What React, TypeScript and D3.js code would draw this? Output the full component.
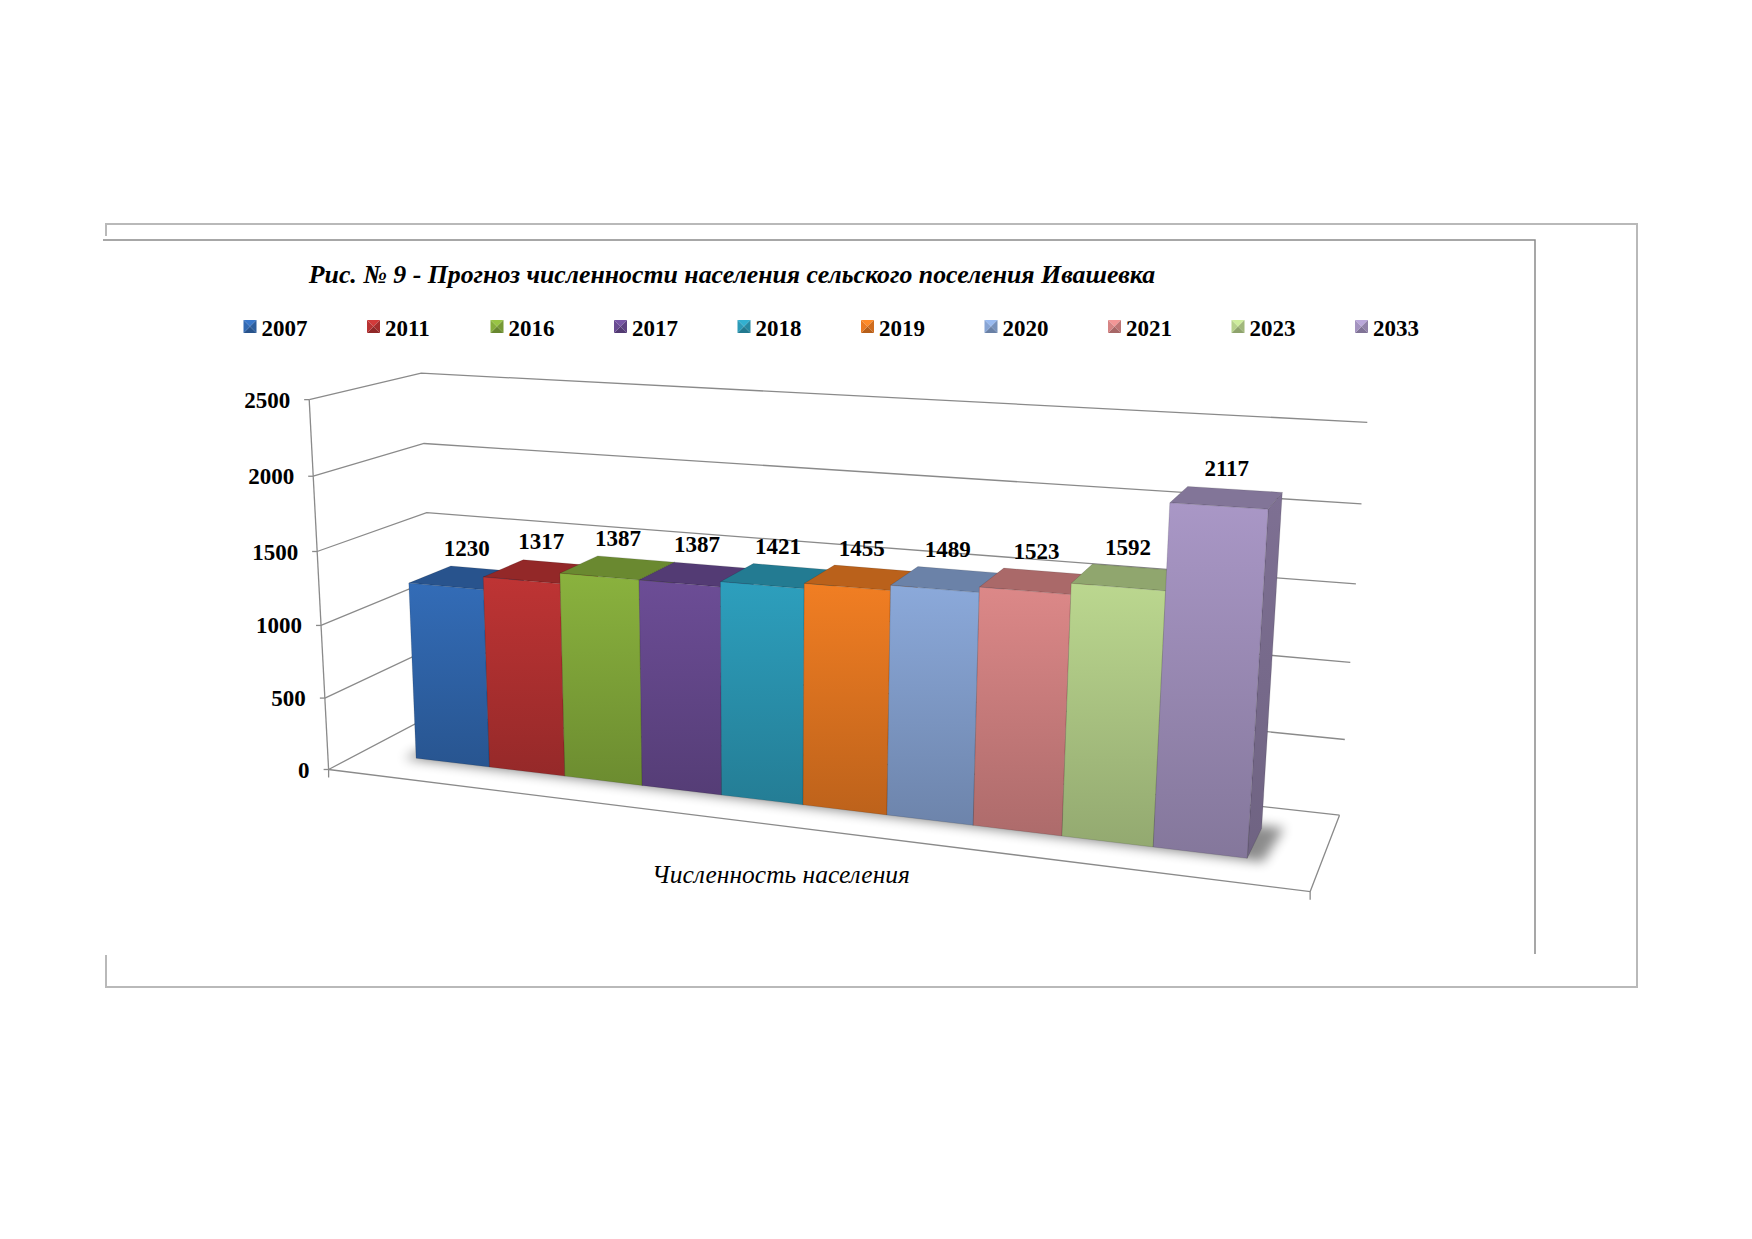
import React from 'react';
import * as d3 from 'd3';

// Chart data
const years = ['2007', '2011', '2016', '2017', '2018', '2019', '2020', '2021', '2023', '2033'];
const population = [1230, 1317, 1387, 1387, 1421, 1455, 1489, 1523, 1592, 2117];
const barColors = ['#3269b2', '#b93333', '#86ad3c', '#694b92', '#2c9bb8', '#ea7a22', '#87a4d4', '#d68484', '#b6d18b', '#a493c0'];
const valueTicks = [0, 500, 1000, 1500, 2000, 2500];
const titleText = 'Рис. № 9 - Прогноз численности населения сельского поселения Ивашевка';
const axisTitle = 'Численность населения';

// Where the plot box edges fall on the page: [u, value, depth, x, y]
const wallAnchors: number[][] = [
  [0, 0, 0, 332.3, 768.3],
  [0, 500, 0, 325, 696.7],
  [0, 1000, 0, 320, 625],
  [0, 1500, 0, 316.7, 551.7],
  [0, 2000, 0, 313.3, 476.7],
  [0, 2500, 0, 306.7, 400],
  [0, 0, 1, 431.5, 716.5],
  [0, 1500, 1, 426.7, 512.3],
  [0, 2000, 1, 425, 442.7],
  [0, 2500, 1, 423.3, 373.3],
  [1, 0, 1, 1339.3, 813.3],
  [1, 500, 1, 1345, 739],
  [1, 1000, 1, 1350.7, 661.7],
  [1, 1500, 1, 1356, 584],
  [1, 2000, 1, 1361.7, 504.3],
  [1, 2500, 1, 1366.7, 422.7],
  [1, 0, 0, 1310, 894],
];

const FONT = "'Times New Roman', 'Liberation Serif', serif";
const W = 1752;
const H = 1239;

const yScale = d3.scaleLinear().domain([0, 2500]).range([0, 1]);
const uScale = d3.scaleBand<string>().domain(years).range([0, 1]).paddingInner(0).paddingOuter(0.75);
const depthFront = 0.3;
const depthBack = 0.7;

// solve A p = r (small dense system)
function solve(M: number[][], r: number[]): number[] {
  const n = r.length;
  const a = M.map((row, i) => [...row, r[i]]);
  for (let c = 0; c < n; c++) {
    let piv = c;
    for (let k = c + 1; k < n; k++) if (Math.abs(a[k][c]) > Math.abs(a[piv][c])) piv = k;
    [a[c], a[piv]] = [a[piv], a[c]];
    for (let k = 0; k < n; k++) {
      if (k === c) continue;
      const f = a[k][c] / a[c][c];
      for (let j = c; j <= n; j++) a[k][j] -= f * a[c][j];
    }
  }
  return a.map((row, i) => row[n] / row[i]);
}

// perspective camera fitted to the anchors (DLT, least squares)
function fitCamera(anchors: number[][]) {
  const cx = 800, cy = 600, s = 500;
  const A: number[][] = [];
  const b: number[] = [];
  anchors.forEach(([u, v, w, x, y]) => {
    const X = u, Y = yScale(v), Z = w;
    const xn = (x - cx) / s, yn = (y - cy) / s;
    A.push([X, Y, Z, 1, 0, 0, 0, 0, -xn * X, -xn * Y, -xn * Z]); b.push(xn);
    A.push([0, 0, 0, 0, X, Y, Z, 1, -yn * X, -yn * Y, -yn * Z]); b.push(yn);
  });
  const M = d3.range(11).map(i => d3.range(11).map(j => d3.sum(A, row => row[i] * row[j])));
  const r = d3.range(11).map(i => d3.sum(A, (row, k) => row[i] * b[k]));
  const p = solve(M, r);
  return (X: number, Y: number, Z: number): [number, number] => {
    const d = p[8] * X + p[9] * Y + p[10] * Z + 1;
    return [
      ((p[0] * X + p[1] * Y + p[2] * Z + p[3]) / d) * s + cx,
      ((p[4] * X + p[5] * Y + p[6] * Z + p[7]) / d) * s + cy,
    ];
  };
}

const project = fitCamera(wallAnchors);

const poly = (pts: [number, number][]) => 'M' + pts.map(p => `${p[0].toFixed(1)},${p[1].toFixed(1)}`).join('L') + 'Z';
const line = (pts: [number, number][]) => 'M' + pts.map(p => `${p[0].toFixed(1)},${p[1].toFixed(1)}`).join('L');

const shade = (c: string, k: number) => (k >= 0 ? d3.color(c)!.brighter(k) : d3.color(c)!.darker(-k)).formatHex();

export default function App() {
  const bw = uScale.bandwidth();
  const u0 = uScale(years[0])!;
  const u1 = uScale(years[years.length - 1])! + bw;

  const shadow = poly([
    project(u0 - 0.012, 0, depthFront - 0.02),
    project(u1 + 0.015, 0, depthFront - 0.02),
    project(u1 + 0.02, 0, depthBack + 0.04),
    project(u0 - 0.005, 0, depthBack),
  ]);

  const gridColor = '#8a8a8a';

  return (
    <svg width={W} height={H} style={{ position: 'absolute', left: 0, top: 0, background: '#fff' }}>
      <defs>
        <filter id="floorShadow" x="-20%" y="-50%" width="140%" height="200%">
          <feGaussianBlur stdDeviation="6" />
        </filter>
        {barColors.map((c, i) => (
          <linearGradient key={i} id={`front-${i}`} x1="0" y1="0" x2="0" y2="1">
            <stop offset="0%" stopColor={shade(c, 0.08)} />
            <stop offset="100%" stopColor={shade(c, -0.6)} />
          </linearGradient>
        ))}
        {barColors.map((c, i) => (
          <linearGradient key={i} id={`side-${i}`} x1="0" y1="0" x2="0" y2="1">
            <stop offset="0%" stopColor={shade(c, -0.75)} />
            <stop offset="100%" stopColor={shade(c, -1.1)} />
          </linearGradient>
        ))}
      </defs>

      {/* page frames */}
      <g fill="none">
        <path d="M106,236V224H1637V987H106V955" stroke="#b9b9b9" strokeWidth={2} />
        <path d="M103,240H1535V954" stroke="#8a8a8a" strokeWidth={1.5} />
      </g>

      {/* title */}
      <text x={732} y={283} textAnchor="middle" fontFamily={FONT} fontSize={25.8} fontWeight="bold" fontStyle="italic">
        {titleText}
      </text>

      {/* legend */}
      {years.map((yr, i) => {
        const x = 243.5 + i * 123.5;
        const y = 320;
        const sz = 13;
        const c = barColors[i];
        const mx = x + sz / 2, my = y + sz / 2;
        return (
          <g key={yr}>
            <path d={poly([[x, y], [x + sz, y], [mx, my]])} fill={shade(c, 0.35)} />
            <path d={poly([[x + sz, y], [x + sz, y + sz], [mx, my]])} fill={shade(c, -0.35)} />
            <path d={poly([[x, y + sz], [x + sz, y + sz], [mx, my]])} fill={shade(c, -0.7)} />
            <path d={poly([[x, y], [x, y + sz], [mx, my]])} fill={c} />
            <text x={x + 18} y={335.5} fontFamily={FONT} fontSize={23} fontWeight="bold">{yr}</text>
          </g>
        );
      })}

      {/* walls: gridlines on side and back wall */}
      <g fill="none" stroke={gridColor} strokeWidth={1.3}>
        {valueTicks.map(t => (
          <path key={t} d={line([project(0, yScale(t), 0), project(0, yScale(t), 1), project(1, yScale(t), 1)])} />
        ))}
        {/* floor */}
        <path d={line([project(0, 0, 0), project(1, 0, 0), project(1, 0, 1)])} />
        {/* value axis */}
        <path d={line([project(0, 0, 0), project(0, 1, 0)])} />
        {valueTicks.map(t => {
          const [x, y] = project(0, yScale(t), 0);
          return <path key={'tk' + t} d={`M${x - 5},${y}H${x}`} />;
        })}
        {[0, 1].map(u => {
          const [x, y] = project(u, 0, 0);
          return <path key={'ct' + u} d={`M${x},${y}V${y + 8}`} />;
        })}
      </g>

      {/* value labels */}
      {valueTicks.map(t => {
        const [x, y] = project(0, yScale(t), 0);
        return (
          <text key={t} x={x - 19} y={y} dy="0.35em" textAnchor="end" fontFamily={FONT} fontSize={23} fontWeight="bold">
            {t}
          </text>
        );
      })}

      {/* floor shadow */}
      <path d={shadow} fill="#000" opacity={0.45} filter="url(#floorShadow)" />

      {/* bars */}
      {years.map((yr, i) => {
        const a = uScale(yr)!;
        const b = a + bw;
        const top = yScale(population[i]);
        const f = depthFront, k = depthBack;
        const c = barColors[i];
        return (
          <g key={yr} stroke="rgba(0,0,0,0.18)" strokeWidth={0.7} strokeLinejoin="round">
            <path d={poly([project(b, 0, f), project(b, 0, k), project(b, top, k), project(b, top, f)])} fill={`url(#side-${i})`} />
            <path d={poly([project(a, top, f), project(b, top, f), project(b, top, k), project(a, top, k)])} fill={shade(c, -0.65)} />
            <path d={poly([project(a, 0, f), project(b, 0, f), project(b, top, f), project(a, top, f)])} fill={`url(#front-${i})`} />
          </g>
        );
      })}

      {/* data labels */}
      {years.map((yr, i) => {
        const [x, y] = project(uScale(yr)! + bw / 2, yScale(population[i]), (depthFront + depthBack) / 2);
        return (
          <text key={yr} x={x} y={y - 22} textAnchor="middle" fontFamily={FONT} fontSize={23} fontWeight="bold">
            {population[i]}
          </text>
        );
      })}

      {/* category axis title */}
      <text x={781} y={883} textAnchor="middle" fontFamily={FONT} fontSize={25.5} fontStyle="italic">
        {axisTitle}
      </text>
    </svg>
  );
}
